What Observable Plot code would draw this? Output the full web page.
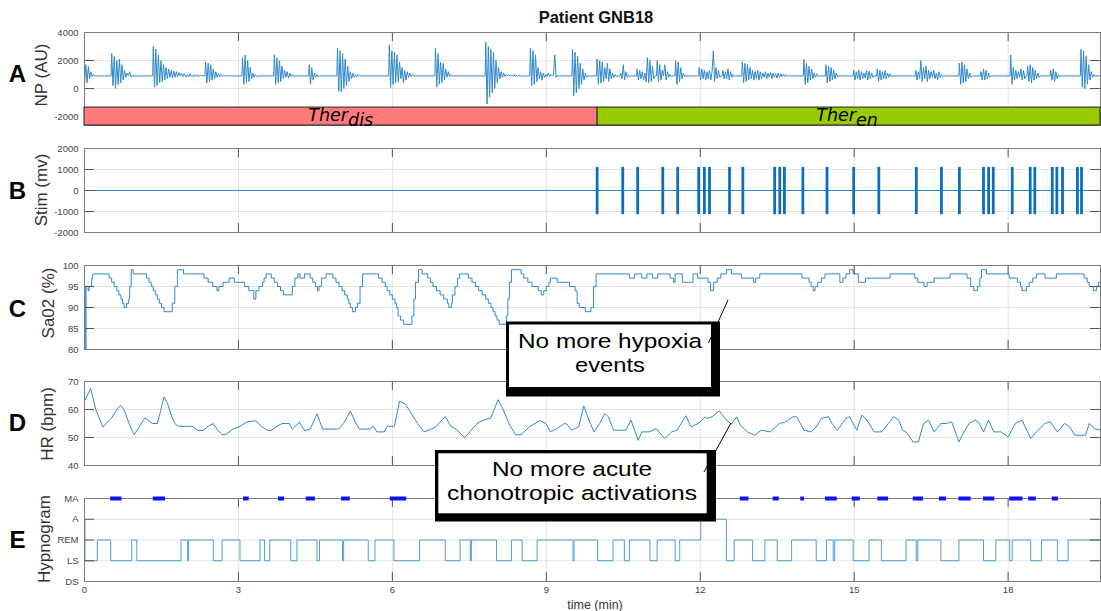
<!DOCTYPE html>
<html><head><meta charset="utf-8">
<script src="https://cdn.jsdelivr.net/npm/d3@7"></script>
<script src="https://cdn.jsdelivr.net/npm/@observablehq/plot@0.6"></script>
<style>
html,body{margin:0;padding:0;background:#fff;}
#root{position:relative;width:1101px;height:611px;overflow:hidden;background:#fff;}
.panel{position:absolute;left:0;}
.panel svg{display:block;}
</style></head><body><div id="root"></div>
<script>
// ---------------- DATA ----------------
const xTicks = [0, 3, 6, 9, 12, 15, 18];
const xDomain = [0, 19.8];

// Panel A: NP (AU) bursts, each burst = start time (min) + samples (every npStep min)
const npBaseline = 900;
const npStep = 0.025;
const npBurstStart = [0.00, 0.53, 1.34, 1.98, 2.36, 3.08, 3.70, 4.38, 4.93, 5.94, 6.84, 7.82, 8.69, 9.51, 9.99, 10.45, 10.77, 11.16, 11.52, 11.98, 12.44, 12.82, 14.02, 14.45, 14.99, 15.45, 16.20, 17.05, 17.47, 18.05, 18.38, 18.83, 19.42];
const npBurstValues = [
  [300, 1700, 400, 1600, 700, 1200, 850, 1000],
  [2500, 200, 2300, 0, 2000, 300, 2100, 400, 1700, 600, 1300, 800, 1100, 900, 1200, 850],
  [3000, 100, 2800, 200, 2400, 400, 2000, 500, 1700, 600, 1500, 700, 1400, 800, 1300, 750, 1250, 800, 1200, 850, 1150, 900, 1100, 850, 1050],
  [800, 1000, 850, 1050, 850, 950, 850, 1000, 880, 950, 860, 950, 900, 920],
  [1900, 400, 1800, 500, 1700, 600, 1400, 700, 1200, 800, 1050, 850, 1000, 850, 950, 870, 950, 880, 930],
  [2200, 300, 2400, 400, 2000, 500, 1500, 700, 1100, 800, 1000, 850],
  [2400, 300, 2200, 400, 2000, 500, 1600, 700, 1300, 800, 1200, 750, 1100, 850, 1000, 850],
  [1700, 300, 1500, 600, 1100, 800, 1000, 850],
  [2900, -200, 2700, -250, 2500, 0, 2100, 200, 1600, 500, 1200, 700, 1100, 800, 1000, 850, 1000, 900],
  [3100, 100, 2700, 300, 2600, 400, 2400, 500, 1900, 700, 1500, 400, 1300, 600, 1200, 800, 1100, 850, 1000, 900],
  [2900, 100, 2500, 300, 1900, 400, 1800, 600, 1400, 800, 1200, 850, 1000],
  [3300, -1100, 3000, -600, 2800, -300, 2600, 0, 2000, 400, 1500, 700, 1200, 800, 1100, 850, 1000, 900, 1000, 880, 950, 900, 1000, 850, 950, 880, 950, 870, 920],
  [2900, 200, 2700, 300, 2400, 500, 1500, 700, 1200, 600, 1100, 800, 1000, 850, 1100, 850, 1000, 900, 950, 2400, 800, 950],
  [2800, -500, 2600, -300, 2300, 0, 1800, 300, 1400, 600, 1100, 800],
  [2100, 300, 2000, 400, 1900, 500, 1500, 700, 1800, 500, 1400, 700, 1100, 800, 1000, 850],
  [1100, 700, 1700, 600, 1200, 800, 1000, 850],
  [1400, 600, 1300, 700, 1200, 600, 1100, 500, 2200, 400, 2000, 500, 1600, 700],
  [2000, 500, 1700, 600, 1300, 900, 1700, 600, 1200, 800, 1000, 850],
  [2000, 300, 1900, 500, 1500, 700, 1100, 850],
  [1500, 600, 1400, 700, 1300, 600, 1200, 700, 1300, 600, 1200, 2700, 500, 1500, 700, 1300, 800],
  [1300, 700, 1200, 700, 1400, 600, 1200, 800, 1000, 850],
  [1900, 400, 1800, 500, 1700, 600, 1500, 700, 1300, 600, 1200, 700, 1300, 600, 1200, 700, 1100, 800, 1200, 700, 1100, 800, 1150, 700, 1100, 800, 1050, 750, 1100, 800, 1050, 850, 1000, 850, 1000, 900],
  [2100, 300, 1800, 400, 1600, 600, 1400, 700, 1100, 800, 1050, 850],
  [1700, 400, 1600, 500, 1500, 600, 1300, 700, 1100, 850],
  [1300, 600, 1200, 700, 1300, 600, 1200, 700, 1100, 750, 1300, 600, 1250, 700, 1100, 800],
  [1400, 500, 1300, 600, 1200, 700, 1300, 700, 1100, 800, 1050, 850],
  [1300, 600, 1200, 700, 2000, 500, 1500, 700, 1600, 500, 1300, 700, 1200, 800, 1300, 700, 1100, 600, 1200, 800, 1000, 850],
  [1800, 300, 1900, 400, 1700, 500, 1400, 700, 1100, 800],
  [1200, 600, 1400, 600, 1300, 700, 1100, 800],
  [2400, 300, 1500, 600, 1300, 700, 1200, 800, 1400, 600, 1300, 700],
  [1600, 500, 1700, 400, 1500, 600, 1300, 700, 1100, 800],
  [1300, 600, 1400, 500, 1200, 700, 1000, 850],
  [2800, 100, 2700, 0, 2300, 300, 1700, 600, 1200, 800, 1000, 850]
];
const npTicks = [-2000, 0, 2000, 4000];

// Therapy band
const therStart = [0, 10];
const therEnd = [10, 19.8];
const therMain = ["Ther", "Ther"];
const therSub = ["dis", "en"];
const therColor = ["#ff7b7b", "#99cc00"];

// Panel B: stimulation pulses (min)
const stimTimes = [9.99, 10.49, 10.78, 11.27, 11.56, 11.97, 12.08, 12.18, 12.57, 12.83, 13.45, 13.55, 13.64, 14.00, 14.47, 14.99, 15.48, 16.21, 16.70, 17.05, 17.52, 17.62, 17.71, 18.08, 18.43, 18.52, 18.86, 18.95, 19.06, 19.35, 19.43];
const stimHigh = 1100;
const stimLow = -1150;
const stimTicks = [-2000, -1000, 0, 1000, 2000];

// Panel C: SaO2 (%) [time, value], step signal
const sao2 = [[0,95],[0.015,80],[0.03,95],[0.07,94],[0.09,95],[0.14,97],[0.16,98],
[0.48,97],[0.53,96],[0.58,95],[0.63,94],[0.67,93],[0.71,92],[0.74,91],[0.77,90],[0.82,91],[0.86,92],[0.88,95],[0.91,99],[0.95,98],
[1.21,97],[1.26,96],[1.30,95],[1.34,94],[1.38,93],[1.42,92],[1.46,91],[1.50,90],[1.55,89],[1.71,91],[1.76,95],[1.81,99],[1.93,98],
[2.33,97],[2.41,96],[2.50,95],[2.58,94],[2.62,95],[2.70,96],[2.82,97],[2.92,96],
[3.12,95],[3.20,94],[3.30,92],[3.34,94],[3.40,95],[3.47,96],[3.50,97],[3.54,98],
[3.64,97],[3.70,96],[3.76,95],[3.82,94],[3.88,93],[4.05,95],[4.10,97],[4.16,98],[4.20,97],[4.29,98],
[4.40,97],[4.45,96],[4.50,95],[4.54,94],[4.57,95],[4.62,97],[4.71,98],
[4.84,97],[4.90,96],[4.96,95],[5.02,94],[5.07,93],[5.12,92],[5.15,91],[5.18,90],[5.22,89],[5.28,90],[5.32,91],[5.37,95],[5.42,98],
[5.73,97],[5.80,96],[5.86,95],[5.90,94],[5.95,93],[6.00,92],[6.05,91],[6.08,90],[6.11,88],[6.16,87],[6.22,86],[6.38,88],[6.42,92],[6.45,96],[6.51,99],
[6.58,98],[6.69,97],[6.74,96],[6.79,95],[6.86,94],[6.93,93],[7.00,92],[7.07,91],[7.10,90],[7.15,91],[7.17,93],[7.22,95],[7.27,97],[7.31,98],
[7.48,97],[7.55,96],[7.62,95],[7.68,94],[7.75,93],[7.82,92],[7.87,91],[7.92,90],[7.96,89],[8.00,88],[8.04,87],[8.08,86],[8.22,88],[8.25,92],[8.28,96],[8.32,99],
[8.51,98],[8.56,97],[8.64,96],[8.72,95],[8.84,94],[8.90,93],[8.95,94],[9.00,95],[9.05,96],
[9.08,97],[9.21,96],[9.45,95],[9.56,94],[9.60,91],[9.64,90],[9.76,89],[9.87,90],[9.92,95],[9.97,98],
[10.62,97],[10.72,98],[10.86,97],[10.96,98],[11.07,97],[11.17,98],[11.41,97],[11.48,96],[11.51,98],[11.65,96],[11.86,98],[11.95,97],
[12.15,96],[12.20,94],[12.26,96],[12.33,97],[12.40,98],[12.51,99],[12.61,98],[12.80,97],[13.04,96],[13.08,97],[13.16,98],
[13.98,97],[14.12,96],[14.16,95],[14.20,94],[14.24,95],[14.29,96],[14.36,97],[14.43,98],
[14.72,96],[14.78,97],[14.84,98],[14.91,99],[14.98,98],[15.08,96],[15.22,97],[15.70,98],
[16.18,97],[16.24,96],[16.36,95],[16.42,96],[16.56,97],[16.87,98],
[17.20,97],[17.27,95],[17.33,94],[17.40,95],[17.45,97],[17.48,99],[17.58,98],
[18.02,97],[18.18,96],[18.24,95],[18.27,94],[18.36,95],[18.41,96],[18.48,97],[18.55,98],
[18.72,97],[18.94,98],[19.48,97],[19.54,96],[19.58,95],[19.66,94],[19.72,95],[19.76,96],[19.80,97]];
const sao2Ticks = [80, 85, 90, 95, 100];

// Panel D: HR (bpm) [time, value]
const hr = [[0,63],[0.12,67.5],[0.22,60],[0.36,53.7],[0.42,55],[0.53,57],[0.63,60],[0.70,61.5],[0.77,60],[0.87,55],[0.94,52],[0.97,51],
[1.04,53],[1.14,56],[1.18,57],[1.25,56],[1.32,55],[1.42,55],[1.49,60],[1.55,64.5],[1.62,62],[1.69,58],[1.76,55],[1.83,54],[2.10,54],
[2.21,52.5],[2.31,52.5],[2.41,54],[2.51,55],[2.58,53],[2.68,51],[2.75,51],[2.89,53],[3.03,54],[3.16,55.5],[3.34,56],[3.44,54],[3.58,52.5],
[3.64,52.5],[3.75,54],[3.85,55],[3.99,55],[4.05,53],[4.19,55.5],[4.29,52.5],[4.40,53],[4.53,58.5],[4.64,53],[4.95,53],[5.05,55],[5.18,59.5],
[5.29,55],[5.36,53],[5.56,53],[5.63,54],[5.70,52],[5.84,52],[5.90,54],[6.04,54],[6.14,63],[6.25,62],[6.32,60],[6.49,55],[6.62,52],[6.76,53],
[6.86,54],[7.03,57.5],[7.14,54],[7.24,53],[7.41,50],[7.51,52],[7.65,55],[7.75,56],[7.92,57],[8.06,63.5],[8.16,60],[8.27,55],[8.40,51],[8.51,51],
[8.68,54],[8.88,56],[8.99,55],[9.08,52],[9.21,53.2],[9.35,55],[9.40,54.8],[9.49,52.6],[9.63,53.8],[9.73,61.3],[9.83,56.2],[9.93,52],[10.04,55],
[10.14,58.6],[10.21,57.4],[10.31,52.6],[10.55,52.6],[10.65,56.2],[10.79,49],[10.86,52],[11.00,52],[11.14,53.2],[11.31,49.6],[11.44,52],[11.55,52.6],
[11.72,57.8],[11.82,53.8],[11.96,55],[12.10,57.4],[12.13,56.8],[12.23,57.4],[12.37,59.5],[12.51,56.2],[12.61,54.8],[12.71,57.4],[12.78,54.4],
[12.92,52],[13.06,50.8],[13.19,52.6],[13.37,52],[13.54,55],[13.67,55.6],[13.81,57.4],[13.88,57.4],[14.02,52.6],[14.16,52],[14.26,53.8],
[14.36,56.8],[14.50,57.4],[14.57,55],[14.67,52.6],[14.84,56.8],[14.91,57.4],[15.05,52.6],[15.15,58],[15.25,56.2],[15.39,52],[15.53,52],
[15.67,55],[15.77,57.4],[15.87,56.2],[15.94,52.6],[16.01,52],[16.15,48.4],[16.25,48.4],[16.35,55],[16.45,56.2],[16.56,52],[16.69,55],
[16.80,55],[16.90,55.6],[17.04,48.4],[17.14,52],[17.24,55],[17.35,56.2],[17.42,55.6],[17.52,52],[17.62,56.2],[17.72,52],[17.86,52],
[18.00,50.2],[18.14,55],[18.27,56.2],[18.38,52],[18.44,49.6],[18.55,52],[18.72,55],[18.82,55.6],[18.96,52],[19.10,55],[19.20,53.8],
[19.30,50.8],[19.51,50.8],[19.58,55],[19.68,53.2],[19.80,52.6]];
const hrTicks = [40, 50, 60, 70];

// Panel E: hypnogram [time, stage index], stages below
const hypStages = ["DS", "LS", "REM", "A", "MA"];
const hyp = [[0,3],[0.01,1],[0.25,2],[0.51,1],[0.92,2],[1.02,1],[1.88,2],[2.01,1],[2.03,2],[2.51,1],[2.68,2],[3.03,1],[3.42,2],[3.51,1],
[3.61,2],[4.02,1],[4.14,2],[4.53,1],[4.58,2],[5.03,1],[5.05,2],[5.53,1],[5.66,2],[6.03,1],[6.53,2],[7.03,1],[7.32,2],[7.52,1],[7.54,2],
[8.03,1],[8.32,2],[8.53,1],[8.82,2],[9.52,1],[9.54,2],[10.00,1],[10.30,2],[10.52,1],[10.62,2],[11.02,1],[11.16,2],[11.51,1],[11.60,2],
[12.01,3],[12.51,1],[12.66,2],[13.02,1],[13.26,2],[13.50,1],[13.78,2],[14.26,1],[14.46,2],[14.59,1],[14.62,2],[14.98,1],[15.29,2],
[15.53,1],[16.01,2],[16.21,1],[16.24,2],[16.69,1],[17.04,2],[17.52,1],[17.76,2],[18.03,1],[18.08,2],[18.44,1],[18.65,2],[18.96,1],
[19.17,2],[19.80,2]];
const maStart = [0.51, 1.34, 3.10, 3.78, 4.32, 5.01, 5.96, 6.85, 12.78, 13.42, 13.96, 14.44, 14.96, 15.46, 16.15, 16.66, 17.04, 17.52, 18.03, 18.40, 18.86];
const maEnd   = [0.73, 1.58, 3.21, 3.90, 4.50, 5.18, 6.28, 7.05, 12.95, 13.54, 14.03, 14.67, 15.12, 15.67, 16.35, 16.80, 17.28, 17.74, 18.29, 18.55, 18.98];
const hypTicks = [0, 1, 2, 3, 4];

// Text
const titleText = "Patient GNB18";
const panelLetters = ["A", "B", "C", "D", "E"];
const yTitles = ["NP (AU)", "Stim (mv)", "Sa02 (%)", "HR (bpm)", "Hypnogram"];
const xTitle = "time (min)";
const note1 = ["No more hypoxia", "events"];
const note2 = ["No more acute", "chonotropic activations"];

// ---------------- STYLE / LAYOUT ----------------
const FONT = '"Liberation Sans", Arial, Helvetica, sans-serif';
const TRACE = "#3189cc";
const GRID = "#e4e4e4";
const TICK = "#555";
const W = 1101, ML = 84, MR = 1;
const frameW = W - ML - MR;
const root = document.getElementById("root");

function makePanel({top, mt, mb, height, yDomain, yTicks, yFormat, marks, after = [], xLabels = false}) {
  const frameH = height - mt - mb;
  const svg = Plot.plot({
    width: W, height, marginLeft: ML, marginRight: MR, marginTop: mt, marginBottom: mb,
    style: {fontFamily: FONT, fontSize: "9.5px", color: "#444", background: "transparent", overflow: "visible"},
    x: {domain: xDomain, axis: null},
    y: {domain: yDomain, axis: null},
    marks: [
      Plot.ruleX(xTicks, {stroke: GRID}),
      Plot.ruleY(yTicks, {stroke: GRID}),
      ...marks,
      Plot.ruleX(xTicks, {stroke: TICK, insetBottom: frameH - 9}),
      Plot.ruleX(xTicks, {stroke: TICK, insetTop: frameH - 9}),
      Plot.ruleY(yTicks, {stroke: TICK, insetRight: frameW - 10}),
      Plot.ruleY(yTicks, {stroke: TICK, insetLeft: frameW - 10}),
      Plot.axisY(yTicks, {tickSize: 0, tickPadding: 6, tickFormat: yFormat, label: null}),
      ...(xLabels ? [Plot.axisX(xTicks, {tickSize: 0, tickPadding: 5, label: null})] : []),
      Plot.frame({stroke: "#7d7d7d"}),
      ...after
    ]
  });
  const div = document.createElement("div");
  div.className = "panel";
  div.style.top = top + "px";
  div.appendChild(svg);
  root.appendChild(div);
}

// Panel A data
const npData = [];
npBurstStart.forEach((t0, i) => {
  const vals = npBurstValues[i];
  if (t0 > 0) npData.push({t: t0 - 0.012, v: npBaseline});
  vals.forEach((v, j) => npData.push({t: t0 + j * npStep, v}));
  npData.push({t: t0 + vals.length * npStep, v: npBaseline});
});
npData.push({t: xDomain[1], v: npBaseline});
const therRows = therStart.map((s, i) => ({s, e: therEnd[i], mid: (s + therEnd[i]) / 2, main: therMain[i], sub: therSub[i], color: therColor[i]}));
const therBand = [-2640, -1360];

makePanel({
  top: 24, mt: 8, mb: 5, height: 106,
  yDomain: [-2640, 4000], yTicks: npTicks, yFormat: d => String(d),
  marks: [Plot.line(npData, {x: "t", y: "v", stroke: TRACE, strokeWidth: 1})],
  after: [
    Plot.rect(therRows, {x1: "s", x2: "e", y1: therBand[0], y2: therBand[1], fill: "color", stroke: "#222", strokeWidth: 1}),
    Plot.text(therRows, {x: "mid", y: (therBand[0] + therBand[1]) / 2, text: "main", textAnchor: "end", dx: 7, dy: -1, fill: "#000", fontSize: 17.5, fontStyle: "italic", fontFamily: "DejaVu Sans"}),
    Plot.text(therRows, {x: "mid", y: (therBand[0] + therBand[1]) / 2, text: "sub", textAnchor: "start", dx: 7, dy: 4, fill: "#000", fontSize: 17.5, fontStyle: "italic", fontFamily: "DejaVu Sans"})
  ]
});

// Panel B
const stimBase = [{t: xDomain[0], v: 0}, {t: xDomain[1], v: 0}];
makePanel({
  top: 140, mt: 8, mb: 5, height: 97,
  yDomain: [-2000, 2000], yTicks: stimTicks, yFormat: d => String(d),
  marks: [
    Plot.line(stimBase, {x: "t", y: "v", stroke: TRACE, strokeWidth: 1}),
    Plot.ruleX(stimTimes, {x: d => d, y1: stimLow, y2: stimHigh, stroke: "#0a6fbd", strokeWidth: 2.8})
  ]
});

// Panel C
makePanel({
  top: 257, mt: 8, mb: 5, height: 97,
  yDomain: [80, 100], yTicks: sao2Ticks, yFormat: d => String(d),
  marks: [Plot.line(sao2, {x: d => d[0], y: d => d[1], curve: "step-after", stroke: TRACE, strokeWidth: 1})]
});

// Panel D
makePanel({
  top: 373, mt: 8, mb: 5, height: 97,
  yDomain: [40, 70], yTicks: hrTicks, yFormat: d => String(d),
  marks: [Plot.line(hr, {x: d => d[0], y: d => d[1], stroke: TRACE, strokeWidth: 1})]
});

// Panel E
const maRows = maStart.map((s, i) => ({s, e: maEnd[i]}));
makePanel({
  top: 490, mt: 8, mb: 30, height: 121,
  yDomain: [0, 4], yTicks: hypTicks, yFormat: d => hypStages[d], xLabels: true,
  marks: [Plot.line(hyp, {x: d => d[0], y: d => d[1], curve: "step-after", stroke: "#4d9fda", strokeWidth: 1})],
  after: [Plot.ruleY(maRows, {x1: "s", x2: "e", y: 4, stroke: "#1010ff", strokeWidth: 4})]
});

// ---------------- OVERLAY TEXT & ANNOTATIONS ----------------
const ov = d3.select(root).append("svg")
  .attr("width", W).attr("height", 611)
  .style("position", "absolute").style("left", "0px").style("top", "0px")
  .attr("font-family", FONT);

ov.append("text").attr("x", 596).attr("y", 23).attr("text-anchor", "middle")
  .attr("font-weight", "bold").attr("font-size", 16.5).attr("fill", "#111").text(titleText);

const letterY = [82, 198.5, 316.5, 431, 547.5];
panelLetters.forEach((L, i) => {
  ov.append("text").attr("x", 17.5).attr("y", letterY[i]).attr("text-anchor", "middle")
    .attr("font-weight", "bold").attr("font-size", 24).attr("fill", "#000").text(L);
});

const yTitleX = [46.5, 46.5, 53.5, 53, 49.5];
const yTitleY = [75, 190, 303, 424, 539];
yTitles.forEach((t, i) => {
  ov.append("text").attr("transform", `translate(${yTitleX[i]},${yTitleY[i]}) rotate(-90)`)
    .attr("text-anchor", "middle").attr("font-size", 17).attr("fill", "#333").text(t);
});

ov.append("text").attr("x", 595).attr("y", 609).attr("text-anchor", "middle")
  .attr("font-size", 12.5).attr("fill", "#333").text(xTitle);

function note(box, inner, lines, widths, cx, baselines, line) {
  ov.append("rect").attr("x", box[0]).attr("y", box[1]).attr("width", box[2] - box[0]).attr("height", box[3] - box[1]).attr("fill", "#000");
  ov.append("rect").attr("x", inner[0]).attr("y", inner[1]).attr("width", inner[2] - inner[0]).attr("height", inner[3] - inner[1]).attr("fill", "#fff");
  lines.forEach((t, i) => {
    ov.append("text").attr("x", cx).attr("y", baselines[i]).attr("text-anchor", "middle")
      .attr("font-size", 20.5).attr("textLength", widths[i]).attr("lengthAdjust", "spacingAndGlyphs")
      .attr("fill", "#000").text(t);
  });
  ov.append("line").attr("x1", line[0]).attr("y1", line[1]).attr("x2", line[2]).attr("y2", line[3])
    .attr("stroke", "#000").attr("stroke-width", 1);
}
note([506, 321.5, 720, 396.5], [509, 324.5, 711, 387], note1, [184, 70], 610, [348, 372], [728, 300, 708.5, 343]);
note([435, 450, 716, 521.5], [438.3, 453.3, 706.7, 513.3], note2, [160, 250], 572, [476, 500], [731, 423, 704, 472]);
</script></body></html>
